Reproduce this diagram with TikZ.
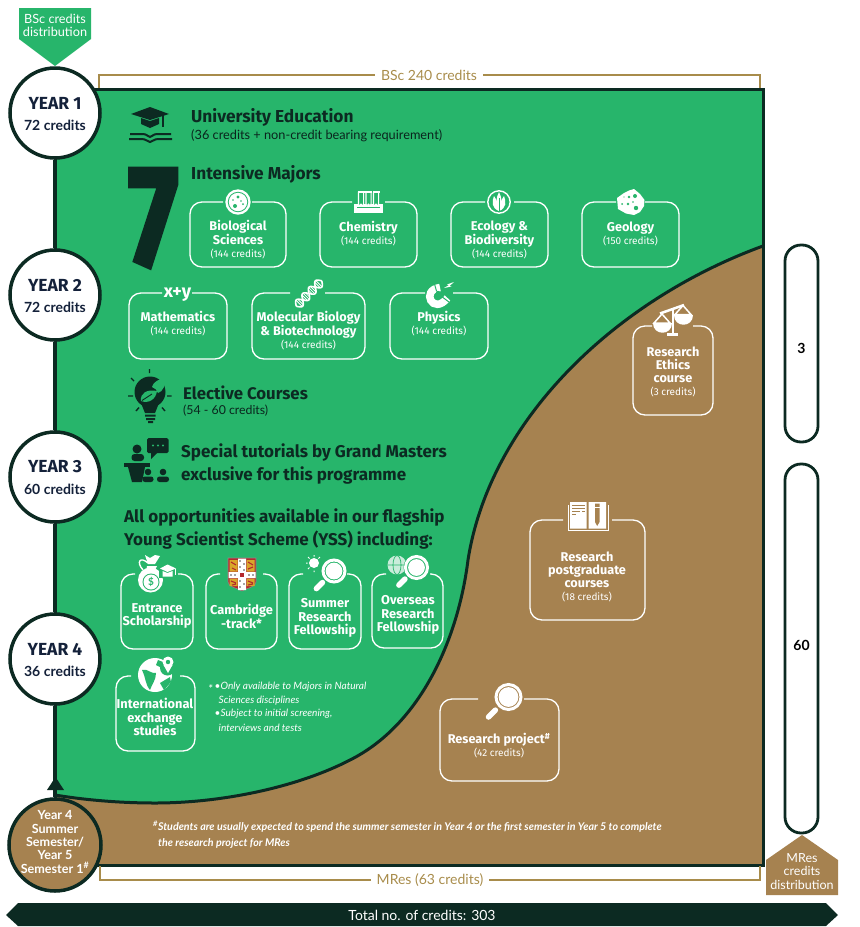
\documentclass[tikz,border=0pt]{standalone}
\usepackage{fontspec}
\setmainfont{Lato}
\newfontfamily\hd{Fira Sans}
\newfontfamily\hvy{Fira Sans}[BoldFeatures={FakeBold=3.5}]
\definecolor{gr}{HTML}{27B56B}
\definecolor{br}{HTML}{A68250}
\definecolor{dk}{HTML}{0C2A22}
\definecolor{gd}{HTML}{A88C4B}
\definecolor{nv}{HTML}{14213A}
\definecolor{lion}{HTML}{D9A62B}
\definecolor{crest}{HTML}{B3282D}
\newcommand{\fs}[1]{\fontsize{#1}{#1}\selectfont}
\newcommand{\crd}[1]{{\fontsize{10}{13}\selectfont\mdseries #1}}
\newcommand{\cbox}[6]{\draw[boxline] (#5,#2) -- (#1,#2) -- (#1,#4) -- (#3,#4) -- (#3,#2) -- (#6,#2);}
\newcommand{\magn}[4]{% cx cy r bgcolour
  \fill[#4] (#1,#2) circle ({#3+2});
  \draw[white,line width=3pt] (#1,#2) circle (#3);
  \fill[white] (#1,#2) circle ({#3-2.6});
  \draw[white,line width=5.5pt,line cap=round] ({#1-#3*1.05},{#2+#3*1.05}) -- ({#1-#3*1.6},{#2+#3*1.6});
}
\newcommand{\bcurve}{(763,246) .. controls (615,300) and (490,420) .. (468,560) .. controls (458,640) and (420,725) .. (350,760) .. controls (300,786) and (225,803) .. (155,803) .. controls (120,803) and (85,800) .. (55,795)}
\tikzset{
  x=1pt,y=-1pt,
  boxline/.style={draw=white,line width=1.3pt,rounded corners=12pt},
  lab/.style={text=white,align=center,inner sep=0pt,font=\hd\bfseries\fontsize{12.7}{13}\selectfont},
  ylab/.style={text=white,align=center,inner sep=0pt,font=\hd\bfseries\fontsize{12.8}{13.3}\selectfont},
  head/.style={text=dk,anchor=west,inner sep=0pt,font=\hd\bfseries},
  sub/.style={text=dk!85!black,anchor=west,inner sep=0pt,font=\fontsize{12.75}{13}\selectfont},
  yr/.style={circle,draw=dk,fill=white,line width=3.5pt,minimum size=90pt,inner sep=0pt,align=center,text=nv},
  tl/.style={draw=dk,line width=3.5pt},
  goldl/.style={draw=gd,line width=1.3pt},
  pill/.style={draw=dk,fill=white,line width=2.8pt,rounded corners=16pt},
  fn/.style={text=white,anchor=west,inner sep=0pt,font=\itshape\fontsize{10.1}{10}\selectfont},
}
\begin{document}
\begin{tikzpicture}
\useasboundingbox (0,0) rectangle (860,927);
% panel
\fill[gr] (55,89) rectangle (763,865);
\fill[br] \bcurve -- (55,865) -- (763,865) -- cycle;
\draw[dk,line width=3pt] \bcurve;
\draw[dk,line width=3pt] (55,89) rectangle (763,865);
% timeline
\node[yr] (y1) at (55,113) {};
\node[yr] (y2) at (55,295) {};
\node[yr] (y3) at (55,477) {};
\node[yr] (y4) at (55,659) {};
\node[yr,fill=br,minimum size=92pt] (y5) at (55,845) {};
\draw[tl] (y1) -- (y2);
\draw[tl] (y2) -- (y3);
\draw[tl] (y3) -- (y4);
\draw[tl] (y5) -- (y4);
\fill[dk] (55.5,777) -- (64,790) -- (47,790) -- cycle;
\foreach \n/\y/\c in {1/113/72,2/295/72,3/477/60,4/659/36}{
  \node[text=nv,inner sep=0pt,font=\hd\bfseries\fs{17.5}] (yt\n) at (55,\y-10) {YEAR \n};
  \node[text=nv,inner sep=0pt,font=\bfseries\fs{14}] (yc\n) at (55,\y+12) {\c\ credits};
}
\node[text=white,align=center,inner sep=0pt,font=\bfseries\fontsize{12.6}{13.3}\selectfont] (y5t) at (55,842) {Year 4\\Summer\\Semester/\\Year 5\\Semester 1\textsuperscript{\#}};
% BSc arrow
\fill[gr] (19,8) -- (91,8) -- (91,39) -- (55,66) -- (19,39) -- cycle;
\node[text=white,align=center,inner sep=0pt,font=\fontsize{12.7}{13.3}\selectfont] (bscarrow) at (55,25.5) {BSc credits\\distribution};
% MRes arrow
\fill[br] (802,835) -- (838,860) -- (838,895) -- (766,895) -- (766,860) -- cycle;
\node[text=white,align=center,inner sep=0pt,font=\fontsize{12.5}{13.5}\selectfont] (mresarrow) at (802,871.5) {MRes\\credits\\distribution};
% brackets
\node[text=gd,inner xsep=6pt,inner ysep=0pt,font=\fontsize{14}{14}\selectfont] (bsc) at (429,75) {BSc 240 credits};
\coordinate (bl) at (99,88);\coordinate (brr) at (760,88);
\draw[goldl] (bsc.west) -| (bl);
\draw[goldl] (bsc.east) -| (brr);
\node[text=gd,inner xsep=6pt,inner ysep=0pt,font=\fontsize{14}{14}\selectfont] (mres) at (430,880) {MRes (63 credits)};
\coordinate (ml) at (100,866);\coordinate (mr) at (760,866);
\draw[goldl] (mres.west) -| (ml);
\draw[goldl] (mres.east) -| (mr);
% total bar
\fill[dk] (6,915) -- (18,903) -- (826,903) -- (838,915) -- (826,926) -- (18,926) -- cycle;
\node[text=white,inner sep=0pt,font=\fontsize{14}{14}\selectfont] (total) at (422,915) {Total no. of credits: 303};
% pills
\node[pill,minimum width=33pt,minimum height=197pt] (p3) at (801.5,343.5) {};
\node[pill,minimum width=33pt,minimum height=369pt] (p60) at (801.5,648.5) {};
\node[inner sep=0pt,font=\bfseries\fontsize{14}{14}\selectfont] (p3t) at (801.5,348.5) {3};
\node[inner sep=0pt,font=\bfseries\fontsize{14}{14}\selectfont] (p60t) at (801.5,645) {60};
% grad cap
\fill[dk] (150,107) -- (169,114) -- (150,120) -- (131,114) -- cycle;
\fill[dk] (141,118) -- (150,121) -- (159,118) -- (159,124) -- (150,128) -- (141,124) -- cycle;
\draw[dk,line width=1.3pt] (163,115) -- (163,127);
\draw[dk,line width=2pt] (130,134) -- (143,134) .. controls (147,134) and (148,137) .. (150,137) .. controls (152,137) and (153,134) .. (157,134) -- (171,134);
\draw[dk,line width=2pt] (129,139) -- (142,139) .. controls (146,139) and (148,142) .. (150,142) .. controls (152,142) and (154,139) .. (158,139) -- (172,139);
\node[head,font=\hd\bfseries\fs{17.3}] (ue) at (191,117) {University Education};
\node[sub] (uec) at (191,135.5) {(36 credits + non-credit bearing requirement)};
% seven
\node[text=dk,inner sep=0pt,font=\hvy\bfseries\fontsize{142}{142}\selectfont,xscale=0.75,anchor=base] (seven) at (153.5,265) {7};
\node[head,font=\hd\bfseries\fs{17.3}] (im) at (191,174) {Intensive Majors};
% majors row 1
\cbox{190}{202}{286}{267}{223}{252}
\cbox{320}{202}{417}{267}{352}{385}
\cbox{451}{202}{548}{267}{485}{514}
\cbox{582}{202}{679}{267}{616}{645}
\node[lab] (bio) at (238,240) {Biological\\Sciences\\\crd{(144 credits)}};
\node[lab] (che) at (368.5,233.5) {Chemistry\\\crd{(144 credits)}};
\node[lab] (eco) at (499.5,240) {Ecology \&\\Biodiversity\\\crd{(144 credits)}};
\node[lab] (geo) at (630.5,233.5) {Geology\\\crd{(150 credits)}};
% majors row 2
\cbox{129}{293}{227}{359}{162}{192}
\cbox{252}{293}{365}{359}{290}{325}
\cbox{390}{293}{488}{359}{425}{453}
\node[lab] (mat) at (178,324) {Mathematics\\\crd{(144 credits)}};
\node[lab] (mol) at (308.5,330.5) {Molecular Biology\\\& Biotechnology\\\crd{(144 credits)}};
\node[lab] (phy) at (439,324) {Physics\\\crd{(144 credits)}};
% petri
\fill[white] (238,202) circle (12.7);
\fill[gr] (238,202) circle (10.2);
\fill[white] (238,202) circle (9.2);
\fill[gr] (238,197) circle (1.6) (235,206) circle (2) (243,204) circle (1) (241,201) circle (.8) (233,200) circle (.8);
% tubes
\fill[white] (354,204) rectangle (383,213);
\fill[gr] (357,206.5) rectangle (380,208);
\foreach \c in {361,368.5,376}{
  \draw[white,line width=1.2pt,fill=gr] (\c-2.6,192) -- (\c-2.6,204) .. controls (\c-2.6,207) and (\c+2.6,207) .. (\c+2.6,204) -- (\c+2.6,192);
  \draw[white,line width=1.4pt] (\c-3.5,192) -- (\c+3.5,192);
  \fill[white] (\c,205) circle (1.7);
}
% leaf
\draw[white,line width=1.4pt] (499,202) circle (11.2);
\fill[white] (499,211) .. controls (491,208) and (492,201) .. (494,196) .. controls (497,200) and (499,206) .. (499,211);
\fill[white] (499,211) .. controls (507,208) and (506,201) .. (504,196) .. controls (501,200) and (499,206) .. (499,211);
\fill[white] (499,211) .. controls (495,204) and (496,198) .. (499,192) .. controls (502,198) and (503,204) .. (499,211);
\draw[gr,line width=.7pt] (499,211) -- (499,198);
% rock
\fill[white] (617,198) -- (624,193) -- (629,190.5) -- (634,189) -- (640,194) -- (644.5,200) -- (644,206) -- (640,212) -- (634,215) -- (626,213.5) -- (618,209) -- cycle;
\fill[gr] (629,197) circle (1.4) (635,196) circle (2) (628,204) circle (1.3) (636,208) circle (2.2) (622,204) circle (1) (633,202) circle (.8) (624,197) circle (.7);
% x+y
\node[text=white,inner sep=0pt,font=\hd\bfseries\fontsize{18}{18}\selectfont] (xy) at (177.5,295) {x+y};
% dna
\draw[white,line width=1.6pt] plot[domain=-18:18,samples=40,smooth] ({309+\x*0.707+4.5*sin(\x*20)*0.707},{293.5-\x*0.707+4.5*sin(\x*20)*0.707});
\draw[white,line width=1.6pt] plot[domain=-18:18,samples=40,smooth] ({309+\x*0.707-4.5*sin(\x*20)*0.707},{293.5-\x*0.707-4.5*sin(\x*20)*0.707});
\foreach \t in {-14,-12,-10,-8,-6,-4,-2,2,4,6,8,10,12,14}{
  \draw[white,line width=.8pt] ({309+\t*0.707+4.5*sin(\t*20)*0.707},{293.5-\t*0.707+4.5*sin(\t*20)*0.707}) -- ({309+\t*0.707-4.5*sin(\t*20)*0.707},{293.5-\t*0.707-4.5*sin(\t*20)*0.707});
}
% magnet
\draw[white,line width=7.5pt] (440,287.5) .. controls (420,290) and (433,316) .. (447.5,298);
\draw[gr,line width=1pt] (434.5,284) -- (436.5,291);
\draw[gr,line width=1pt] (441,296) -- (449,302);
\fill[gr] (438,293) circle (2.2);
\fill[white] (444,288) -- (449,285) -- (447,284.5) -- (454,282) -- (449.5,286) -- (451.5,286.5) -- cycle;
% bulb
\fill[dk] (150,392) circle (15.5);
\fill[dk] (141,403) -- (159,403) -- (155,413) -- (145,413) -- cycle;
\fill[dk] (145,414.5) rectangle (155.5,416.5) (146,418) rectangle (155,420) (148,421.2) rectangle (153,423);
\draw[dk,line width=1.4pt] (149.5,369) -- (149.5,373) (131,378) -- (134,381) (128,396) -- (133,396) (136,411) -- (139,407.5) (162,407.5) -- (165,411) (167,396) -- (171.5,396);
\fill[gr] (141,401) .. controls (140,393) and (147,389) .. (157,391) .. controls (156,399) and (149,404) .. (141,401);
\fill[gr] (152,387) .. controls (153,382) and (159,379) .. (165,378) .. controls (166,384) and (163,392) .. (158,393) .. controls (157,390) and (155,388) .. (152,387);
\draw[dk,line width=.9pt] (142,400.5) -- (152,394);
\node[head,font=\hd\bfseries\fs{16.8}] (el) at (183,392.5) {Elective Courses};
\node[sub,font=\fs{12.3}] (elc) at (183,411) {(54 - 60 credits)};
% tutorial icon
\fill[dk,rounded corners=1.5pt] (147,438) rectangle (168.5,453);
\fill[dk] (151,452) -- (151,459) -- (158,452) -- cycle;
\fill[gr] (153,445.5) circle (1.1) (158,445.5) circle (1.1) (163,445.5) circle (1.1);
\fill[dk] (137,449) circle (4.5);
\fill[dk,rounded corners=3pt] (131.5,461) -- (131.5,454) -- (144,454) -- (144,461) -- cycle;
\fill[dk] (124,463) rectangle (150,467);
\fill[dk] (128,467) -- (145,467) -- (142,482) -- (132,482) -- cycle;
\fill[dk] (148,472) circle (3.3) (163,472) circle (3.3);
\fill[dk,rounded corners=2.5pt] (142.5,482) -- (142.5,476.5) -- (153.5,476.5) -- (153.5,482) -- cycle;
\fill[dk,rounded corners=2.5pt] (157,482) -- (157,476.5) -- (169,476.5) -- (169,482) -- cycle;
\node[head,font=\hd\bfseries\fs{17}] (sp1) at (181,452.5) {Special tutorials by Grand Masters};
\node[head,font=\hd\bfseries\fs{17}] (sp2) at (181,475) {exclusive for this programme};
\node[head,font=\hd\bfseries\fs{17}] (all1) at (124,517.5) {All opportunities available in our flagship};
\node[head,font=\hd\bfseries\fs{17}] (all2) at (124,540) {Young Scientist Scheme (YSS) including:};
% YSS boxes
\cbox{121}{574}{193}{649}{135}{178}
\cbox{206}{574}{277}{649}{220}{263}
\cbox{289}{574}{361}{649}{303}{347}
\cbox{372}{574}{443}{648}{386}{430}
\cbox{116}{676}{195}{751}{131}{180}
\node[ylab] (ent) at (157,616) {Entrance\\Scholarship};
\node[ylab] (cam) at (241.5,616.5) {Cambridge\\-track*};
\node[ylab] (sum) at (325,618) {Summer\\Research\\Fellowship};
\node[ylab] (ove) at (408,615) {Overseas\\Research\\Fellowship};
\node[ylab] (int) at (155,717) {International\\exchange\\studies};
% money bag
\fill[white] (150.5,580) circle (12.5);
\fill[white] (147,566) -- (157,566) -- (154,572) -- (146,572) -- cycle;
\fill[white] (145,555) -- (150,558) -- (155,555) -- (160,556) -- (155,564) -- (148,564) -- cycle;
\draw[white,line width=1.4pt] (148,563) .. controls (140,556) and (136,562) .. (143,570);
\fill[gr] (151,582) circle (8.5);
\fill[white] (151,582) circle (7.5);
\node[text=gr,inner sep=0pt,font=\bfseries\fontsize{10}{10}\selectfont] (dollar) at (151,582) {\$};
\fill[gr] (159,564) rectangle (177,578);
\fill[white] (167.5,564.5) -- (176,568.5) -- (167.5,572) -- (160,568.5) -- cycle;
\fill[white] (162.5,571) -- (167.5,573) -- (172.5,571) -- (172.5,576.5) -- (162.5,576.5) -- cycle;
\draw[white,line width=.7pt] (175.5,568.5) -- (175.5,575);
% crest
\fill[crest,draw=black!45,line width=.6pt] (228,558) -- (256,558) -- (256,582) .. controls (256,587) and (247,588) .. (242,591) .. controls (237,588) and (228,587) .. (228,582) -- cycle;
\fill[lion] (229.5,560) rectangle (237.5,571.5) (246.5,560) rectangle (254.5,571.5) (229.5,578.5) rectangle (237.5,586) (246.5,578.5) rectangle (254.5,586);
\draw[crest,line width=1.1pt] (231,562) -- (236,565) (232,568) -- (236,570) (248,562) -- (253,565) (248,569) -- (253,567) (231,581) -- (236,583) (232,585) -- (236,584) (248,581) -- (253,583) (248,585) -- (253,584);
\fill[white] (238,558.5) rectangle (246,590) (228.5,572) rectangle (255.5,578);
\fill[crest] (240,573) rectangle (244,577);
\foreach \p in {(240,561),(244,564),(240,567),(244,570),(240,581),(244,584),(240,587),(231,575),(235,575),(249,575),(253,575)} \fill[black!70] \p circle (.8);
% summer
\magn{334}{571}{11}{gr}
\fill[white] (314,563) circle (5);
\draw[white,line width=1pt] (314,555) -- (314,556.5) (306,563) -- (307.5,563) (308,557) -- (309.5,558.5) (320,557) -- (318.5,558.5) (308,569) -- (309.5,567.5) (314,570.5) -- (314,572);
% overseas
\fill[white!75!gr] (397,565) circle (9.5);
\draw[gr,line width=.7pt] (397,565) ellipse (4 and 9.5) (387.5,565) -- (406.5,565);
\magn{416.5}{567.5}{11}{gr}
% globe
\fill[white] (155,675) circle (17);
\fill[gr] (142,670) .. controls (148,668) and (150,674) .. (156,673) .. controls (156,680) and (152,684) .. (150,690) .. controls (145,684) and (146,678) .. (142,670);
\fill[gr] (160,683) -- (170,677) -- (171,682) -- (164,690) -- cycle;
\fill[gr] (158,660) -- (168,664) -- (164,669) -- (156,665) -- cycle;
\fill[gr] (167.5,668) circle (7.5);
\fill[white] (168,662) circle (5.5);
\fill[white] (163.5,665) -- (172.5,665) -- (168,673) -- cycle;
\fill[gr] (168,662) circle (2.2);
% footnote
\node[fn,font=\itshape\fontsize{12}{12}\selectfont] (fs) at (208,689) {*};
\node[fn] (fa) at (214.5,687) {•Only available to Majors in Natural};
\node[fn] (fb) at (218.5,700.5) {Sciences disciplines};
\node[fn] (fc) at (214.5,714) {•Subject to initial screening,};
\node[fn] (fd) at (218.5,728) {interviews and tests};
% brown boxes
\cbox{633}{326}{713}{415}{652}{693}
\cbox{530}{520}{645}{620}{563}{612}
\cbox{440}{699}{559}{781}{478}{524}
\node[lab] (eth) at (673,371.5) {Research\\Ethics\\course\\\crd{(3 credits)}};
\node[lab] (pg) at (587,576.5) {Research\\postgraduate\\courses\\\crd{(18 credits)}};
\node[lab] (rp) at (499,746) {Research project\textsuperscript{\#}\\\crd{(42 credits)}};
% scales
\draw[white,line width=2pt] (672.5,308) -- (672.5,334);
\fill[white] (667,333) rectangle (678,336);
\draw[white,line width=2.5pt] (660,313.5) -- (684,305);
\foreach \c/\d in {662/323,683/314.5}{
  \fill[white] (\c-9.5,\d) .. controls (\c-9.5,\d+13) and (\c+9.5,\d+13) .. (\c+9.5,\d) -- cycle;
  \draw[white,line width=1.5pt] (\c-8,\d) -- (\c,\d-9) -- (\c+8,\d) -- cycle;
}
% book
\draw[white,line width=1pt] (568,505) -- (568,530.5) -- (608,530.5) -- (608,505);
\fill[white] (570,502) rectangle (586.5,528.5) (588.5,502) rectangle (606,528.5);
\draw[br,line width=.8pt] (572,505) -- (585,505) (572,508) -- (585,508) (572,511) -- (580,511) (582,511) -- (585,511) (572,514) -- (576,514);
\fill[br] (595,503.5) -- (599.5,503.5) -- (599.5,522) -- (597.2,526) -- (595,522) -- cycle;
\draw[white,line width=.6pt] (595,507) -- (599.5,507);
% magnifier project
\magn{508.5}{697}{12.5}{br}
% bottom footnote
\node[text=white,anchor=west,inner sep=0pt,font=\bfseries\itshape\fontsize{10.68}{11}\selectfont] (fn1) at (153,827) {\textsuperscript{\#}Students are usually expected to spend the summer semester in Year 4 or the first semester in Year 5 to complete};
\node[text=white,anchor=west,inner sep=0pt,font=\bfseries\itshape\fontsize{10.68}{11}\selectfont] (fn2) at (158,843) {the research project for MRes};
\end{tikzpicture}
\end{document}
